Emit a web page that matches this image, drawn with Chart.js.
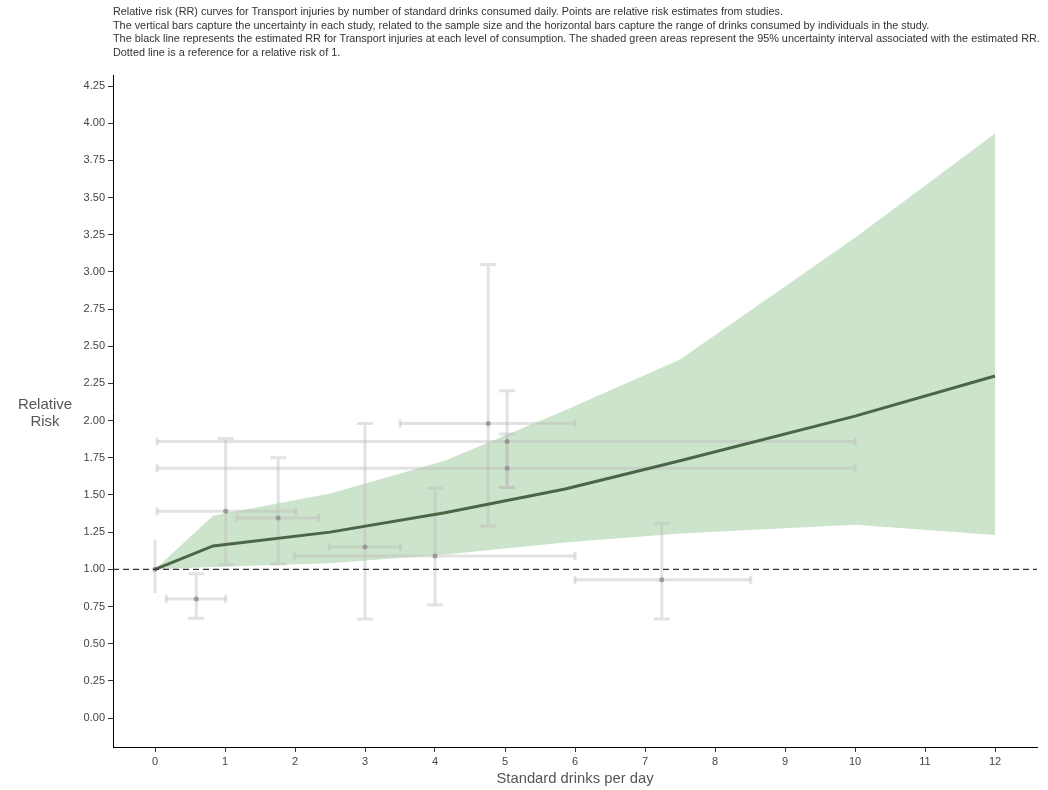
<!DOCTYPE html>
<html>
<head>
<meta charset="utf-8">
<script src="https://cdn.jsdelivr.net/npm/chart.js@4.4.1/dist/chart.umd.min.js"></script>
<style>
  html, body { margin: 0; padding: 0; background: #fff; }
  #wrap { position: relative; width: 1048px; height: 790px; font-family: "Liberation Sans", Arial, sans-serif; }
  #c { position: absolute; left: 0; top: 0; }
  #title { position: absolute; left: 113px; top: 5px; font-size: 10.85px; line-height: 13.5px; color: #333; white-space: nowrap; }
  #ylab { position: absolute; left: 0; width: 90px; top: 395px; text-align: center; font-size: 15px; line-height: 17px; color: #555; }
  #xlab { position: absolute; left: 113px; width: 924px; top: 770px; text-align: center; font-size: 14.8px; line-height: 17px; color: #555; }
</style>
</head>
<body>
<div id="wrap">
  <canvas id="c" width="1048" height="790"></canvas>
  <div id="title">Relative risk (RR) curves for Transport injuries by number of standard drinks consumed daily. Points are relative risk estimates from studies.<br>The vertical bars capture the uncertainty in each study, related to the sample size and the horizontal bars capture the range of drinks consumed by individuals in the study.<br>The black line represents the estimated RR for Transport injuries at each level of consumption. The shaded green areas represent the 95% uncertainty interval associated with the estimated RR.<br>Dotted line is a reference for a relative risk of 1.</div>
  <div id="ylab">Relative<br>Risk</div>
  <div id="xlab">Standard drinks per day</div>
</div>
<script>
// ---- Data ----
const curveX     = [0, 0.83, 2.5, 4.14, 5.86, 7.5, 10, 12];
const curveRR    = [1.00, 1.157, 1.25, 1.38, 1.54, 1.73, 2.03, 2.30];
const curveUpper = [1.00, 1.36, 1.51, 1.73, 2.07, 2.41, 3.23, 3.93];
const curveLower = [1.00, 1.015, 1.04, 1.10, 1.18, 1.24, 1.30, 1.23];

const studyX    = [0,    0.59, 1.01, 1.76, 3.00, 4.00, 4.76, 5.03, 5.03, 7.24];
const studyRR   = [1.00, 0.80, 1.39, 1.345, 1.15, 1.09, 1.98, 1.86, 1.68, 0.93];
const studyLo   = [0.84, 0.67, 1.03, 1.035, 0.665, 0.76, 1.29, 1.55, 1.55, 0.665];
const studyHi   = [1.20, 0.97, 1.88, 1.75, 1.98, 1.545, 3.05, 2.20, 1.91, 1.31];
const studyXLo  = [0,    0.16, 0.03, 1.17, 2.49, 1.99, 3.50, 0.03, 0.03, 6.00];
const studyXHi  = [0,    1.01, 2.01, 2.34, 3.51, 6.00, 6.00, 10.0, 10.0, 8.51];

const refRR = 1;
const xTicks = [0,1,2,3,4,5,6,7,8,9,10,11,12];
const yTicks = [0,0.25,0.5,0.75,1,1.25,1.5,1.75,2,2.25,2.5,2.75,3,3.25,3.5,3.75,4,4.25];
const xMin = -0.6, xMax = 12.6, yMin = -0.195, yMax = 4.324;

const pts = (xs, ys) => xs.map((x, i) => ({x, y: ys[i]}));

const errorBars = {
  id: 'errorBars',
  afterDatasetDraw(chart, args) {
    if (args.index !== 1) return;
    const {ctx, scales: {x, y}} = chart;
    const cap = 8;
    ctx.save();
    ctx.strokeStyle = 'rgba(185,185,185,0.42)';
    ctx.lineWidth = 3;
    ctx.lineCap = 'butt';
    for (let i = 0; i < studyX.length; i++) {
      const px = x.getPixelForValue(studyX[i]);
      const py = y.getPixelForValue(studyRR[i]);
      const pLo = y.getPixelForValue(studyLo[i]);
      const pHi = y.getPixelForValue(studyHi[i]);
      const hasRange = studyXHi[i] > studyXLo[i];
      ctx.beginPath();
      ctx.moveTo(px, pLo); ctx.lineTo(px, pHi);
      if (hasRange) {
        ctx.moveTo(px - cap, pLo); ctx.lineTo(px + cap, pLo);
        ctx.moveTo(px - cap, pHi); ctx.lineTo(px + cap, pHi);
      }
      ctx.stroke();
      if (hasRange) {
        const xl = x.getPixelForValue(studyXLo[i]);
        const xh = x.getPixelForValue(studyXHi[i]);
        ctx.beginPath();
        ctx.moveTo(xl, py); ctx.lineTo(xh, py);
        ctx.stroke();
        ctx.beginPath();
        ctx.moveTo(xl, py - 4); ctx.lineTo(xl, py + 4);
        ctx.moveTo(xh, py - 4); ctx.lineTo(xh, py + 4);
        ctx.stroke();
      }
    }
    ctx.restore();
  }
};

const tickFont = {family: '"Liberation Sans", Arial, sans-serif', size: 11};

new Chart(document.getElementById('c'), {
  type: 'scatter',
  data: {
    datasets: [
      { label: 'lower', data: pts(curveX, curveLower), showLine: true, borderWidth: 0, pointRadius: 0, fill: false, order: 11, borderColor: 'rgba(0,0,0,0)' },
      { label: 'upper', data: pts(curveX, curveUpper), showLine: true, borderWidth: 0, pointRadius: 0, fill: '-1', backgroundColor: 'rgb(205,228,204)', borderColor: 'rgba(0,0,0,0)', order: 10 },
      { label: 'studies', data: pts(studyX, studyRR), pointRadius: 2.5, pointBackgroundColor: 'rgba(140,140,140,0.8)', pointBorderWidth: 0, order: 3 },
      { label: 'RR', data: pts(curveX, curveRR), showLine: true, borderColor: '#4a6647', borderWidth: 3, pointRadius: 0, fill: false, order: 2 },
      { label: 'ref', data: [{x: xMin, y: refRR}, {x: xMax, y: refRR}], showLine: true, borderColor: '#333', borderWidth: 1.2, borderDash: [6, 4], pointRadius: 0, fill: false, order: 1 }
    ]
  },
  options: {
    responsive: false,
    animation: false,
    layout: { padding: { left: 0, right: 11, top: 75, bottom: 0 } },
    plugins: { legend: { display: false }, tooltip: { enabled: false }, title: { display: false } },
    scales: {
      x: {
        type: 'linear', min: xMin, max: xMax,
        afterBuildTicks: s => { s.ticks = xTicks.map(v => ({value: v})); },
        afterFit: s => { s.height = 43; },
        ticks: { font: tickFont, color: '#444', padding: 3, maxRotation: 0, callback: v => String(v) },
        grid: { display: true, drawOnChartArea: false, drawTicks: true, tickLength: 5, color: '#333' },
        border: { display: true, color: '#000', width: 1 }
      },
      y: {
        type: 'linear', min: yMin, max: yMax,
        afterBuildTicks: s => { s.ticks = yTicks.map(v => ({value: v})); },
        afterFit: s => { s.width = 113; },
        ticks: { font: tickFont, color: '#444', padding: 3, callback: v => Number(v).toFixed(2) },
        grid: { display: true, drawOnChartArea: false, drawTicks: true, tickLength: 5, color: '#333' },
        border: { display: true, color: '#000', width: 1 }
      }
    }
  },
  plugins: [errorBars]
});
</script>
</body>
</html>
